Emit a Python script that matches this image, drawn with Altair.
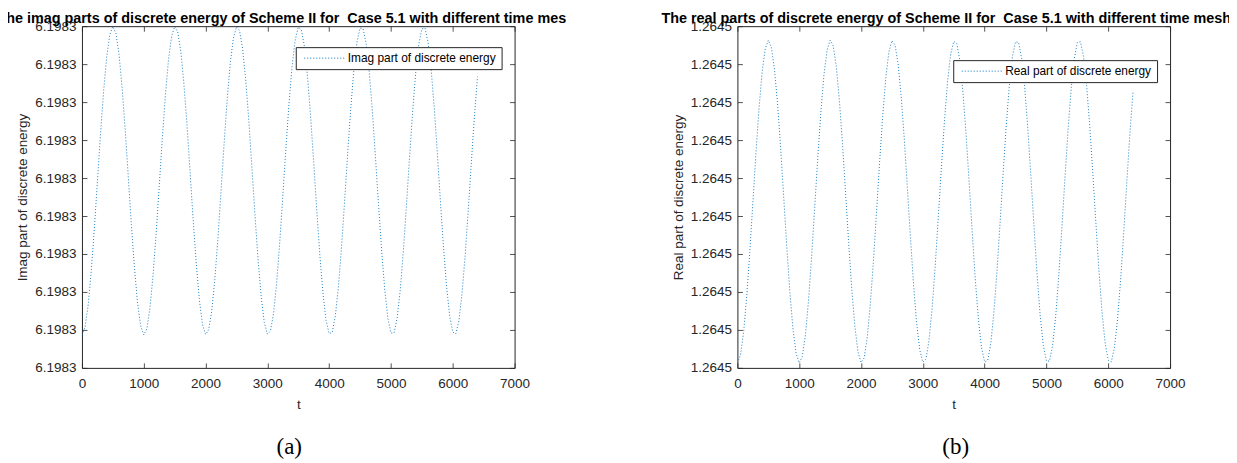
import altair as alt
import pandas as pd

# ---------------- data ----------------
t = list(range(0, 6401, 50))

imag_energy = [
    6.19830087, 6.19830107, 6.19830164, 6.19830253, 6.19830365, 6.19830490, 6.19830615, 6.19830728, 6.19830818, 6.19830877,
    6.19830899, 6.19830881, 6.19830826, 6.19830738, 6.19830627, 6.19830503, 6.19830377, 6.19830263, 6.19830171, 6.19830111,
    6.19830087, 6.19830103, 6.19830157, 6.19830243, 6.19830353, 6.19830477, 6.19830603, 6.19830718, 6.19830811, 6.19830873,
    6.19830899, 6.19830885, 6.19830833, 6.19830748, 6.19830639, 6.19830515, 6.19830389, 6.19830274, 6.19830179, 6.19830115,
    6.19830088, 6.19830100, 6.19830150, 6.19830233, 6.19830341, 6.19830464, 6.19830590, 6.19830707, 6.19830803, 6.19830868,
    6.19830898, 6.19830888, 6.19830840, 6.19830758, 6.19830651, 6.19830528, 6.19830402, 6.19830285, 6.19830188, 6.19830120,
    6.19830089, 6.19830097, 6.19830143, 6.19830223, 6.19830330, 6.19830452, 6.19830578, 6.19830696, 6.19830794, 6.19830863,
    6.19830897, 6.19830891, 6.19830846, 6.19830767, 6.19830662, 6.19830540, 6.19830414, 6.19830296, 6.19830196, 6.19830125,
    6.19830090, 6.19830094, 6.19830137, 6.19830214, 6.19830318, 6.19830439, 6.19830566, 6.19830685, 6.19830786, 6.19830858,
    6.19830895, 6.19830893, 6.19830852, 6.19830777, 6.19830674, 6.19830553, 6.19830427, 6.19830307, 6.19830205, 6.19830131,
    6.19830092, 6.19830092, 6.19830131, 6.19830205, 6.19830307, 6.19830427, 6.19830553, 6.19830674, 6.19830777, 6.19830852,
    6.19830893, 6.19830895, 6.19830858, 6.19830786, 6.19830685, 6.19830566, 6.19830439, 6.19830318, 6.19830214, 6.19830137,
    6.19830094, 6.19830090, 6.19830125, 6.19830196, 6.19830296, 6.19830414, 6.19830540, 6.19830662, 6.19830767,
]

real_energy = [
    1.26450013, 1.26450034, 1.26450093, 1.26450187, 1.26450304, 1.26450435, 1.26450566, 1.26450684, 1.26450779, 1.26450840,
    1.26450863, 1.26450844, 1.26450786, 1.26450695, 1.26450578, 1.26450448, 1.26450317, 1.26450197, 1.26450101, 1.26450038,
    1.26450013, 1.26450030, 1.26450086, 1.26450176, 1.26450292, 1.26450421, 1.26450553, 1.26450673, 1.26450771, 1.26450836,
    1.26450863, 1.26450848, 1.26450794, 1.26450705, 1.26450591, 1.26450461, 1.26450330, 1.26450208, 1.26450110, 1.26450043,
    1.26450014, 1.26450026, 1.26450079, 1.26450166, 1.26450279, 1.26450408, 1.26450540, 1.26450662, 1.26450762, 1.26450831,
    1.26450862, 1.26450851, 1.26450801, 1.26450715, 1.26450603, 1.26450474, 1.26450343, 1.26450220, 1.26450118, 1.26450048,
    1.26450015, 1.26450023, 1.26450072, 1.26450156, 1.26450267, 1.26450395, 1.26450527, 1.26450650, 1.26450753, 1.26450826,
    1.26450860, 1.26450854, 1.26450808, 1.26450725, 1.26450615, 1.26450488, 1.26450355, 1.26450231, 1.26450127, 1.26450053,
    1.26450016, 1.26450020, 1.26450065, 1.26450146, 1.26450255, 1.26450382, 1.26450514, 1.26450639, 1.26450744, 1.26450820,
    1.26450859, 1.26450857, 1.26450814, 1.26450735, 1.26450627, 1.26450501, 1.26450369, 1.26450243, 1.26450136, 1.26450059,
    1.26450018, 1.26450018, 1.26450059, 1.26450136, 1.26450243, 1.26450369, 1.26450501, 1.26450627, 1.26450735, 1.26450814,
    1.26450857, 1.26450859, 1.26450820, 1.26450744, 1.26450639, 1.26450514, 1.26450382, 1.26450255, 1.26450146, 1.26450065,
    1.26450020, 1.26450016, 1.26450053, 1.26450127, 1.26450231, 1.26450355, 1.26450488, 1.26450615, 1.26450725,
]

x_ticks = [0, 1000, 2000, 3000, 4000, 5000, 6000, 7000]
imag_ticks = [6.198300, 6.198301, 6.198302, 6.198303, 6.198304,
              6.198305, 6.198306, 6.198307, 6.198308, 6.198309]
real_ticks = [1.264500, 1.264501, 1.264502, 1.264503, 1.264504,
              1.264505, 1.264506, 1.264507, 1.264508, 1.264509]

imag_title = "The imag parts of discrete energy of Scheme II for\u00a0 Case 5.1 with different time mes"
real_title = "The real parts of discrete energy of Scheme II for\u00a0 Case 5.1 with different time mesh"
imag_series = "Imag part of discrete energy"
real_series = "Real part of discrete energy"

# ---------------- styling ----------------
FONT = "Liberation Sans"
AX = "#262626"
BLUE = "#0072BD"
W, H = 433, 342
FS = 13.5


def panel(values, series, ylabel, ticks, title_text, title_dx, caption, caption_x, leg_x, leg_y):
    df = pd.DataFrame({"t": t, "v": values, "series": series})
    xs = alt.Scale(domain=[x_ticks[0], x_ticks[-1]], nice=False, zero=False)
    ys = alt.Scale(domain=[ticks[0], ticks[-1]], nice=False, zero=False)

    main = alt.Chart(df).mark_line(strokeWidth=0.9, strokeDash=[1, 2], clip=True).encode(
        x=alt.X("t:Q", scale=xs, axis=alt.Axis(
            orient="bottom", values=x_ticks, format="d", offset=-5, tickSize=5,
            tickColor=AX, tickWidth=0.8, domain=False, grid=False,
            labelFont=FONT, labelFontSize=FS, labelColor=AX, labelPadding=9,
            labelFlush=False, labelOverlap=False,
            title="t", titleFont=FONT, titleFontSize=FS, titleFontWeight="normal",
            titleColor=AX, titlePadding=7)),
        y=alt.Y("v:Q", scale=ys, axis=alt.Axis(
            orient="left", values=ticks, format=".4f", offset=-5, tickSize=5,
            tickColor=AX, tickWidth=0.8, domain=False, grid=False,
            labelFont=FONT, labelFontSize=FS, labelColor=AX, labelPadding=6,
            labelFlush=False, labelOverlap=False,
            title=ylabel, titleFont=FONT, titleFontSize=FS, titleFontWeight="normal",
            titleColor=AX, titlePadding=5)),
        color=alt.Color("series:N", scale=alt.Scale(range=[BLUE]), legend=alt.Legend(
            orient="none", legendX=leg_x, legendY=leg_y, title=None,
            symbolType="stroke", symbolSize=1600, symbolStrokeWidth=1,
            symbolDash=[1, 2], symbolOffset=3, labelOffset=3,
            labelFont=FONT, labelFontSize=11.9, labelColor="black", labelLimit=400,
            padding=5, strokeColor=AX, fillColor="white", clipHeight=12,
            cornerRadius=0)),
    )

    frame_ticks = alt.Chart(df).mark_line(opacity=0).encode(
        x=alt.X("t:Q", scale=xs, axis=alt.Axis(
            orient="top", values=x_ticks, offset=-5, tickSize=5, tickColor=AX,
            tickWidth=0.8, labels=False, domain=False, grid=False, title=None)),
        y=alt.Y("v:Q", scale=ys, axis=alt.Axis(
            orient="right", values=ticks, offset=-5, tickSize=5, tickColor=AX,
            tickWidth=0.8, labels=False, domain=False, grid=False, title=None)),
    )

    cap = alt.Chart(df).mark_line(opacity=0).encode(
        x=alt.X("t:Q", scale=xs, axis=alt.Axis(
            orient="bottom", labels=False, ticks=False, domain=False, grid=False,
            title=caption, titleFont="Liberation Serif", titleFontSize=23,
            titleFontWeight="normal", titleColor="black", titleX=caption_x,
            titleY=86, titleAlign="center", titleBaseline="alphabetic")),
        y=alt.Y("v:Q", scale=ys, axis=None),
    )

    return alt.layer(main, frame_ticks, cap).resolve_axis(
        x="independent", y="independent"
    ).properties(
        width=W, height=H,
        title=alt.Title(text=title_text, font=FONT, fontSize=14.4, fontWeight="bold",
                        color="black", anchor="middle", frame="group",
                        dx=title_dx, offset=-7),
    )


left = panel(imag_energy, imag_series, "Imag part of discrete energy", imag_ticks,
             imag_title, -16.5, "(a)", 207, 214, 21)
right = panel(real_energy, real_series, "Real part of discrete energy", real_ticks,
              real_title, -7.5, "(b)", 218, 216, 34)

chart = alt.hconcat(left, right, spacing=223, bounds="flush").resolve_scale(
    color="independent"
).properties(
    padding={"left": -12, "top": 2, "right": -3, "bottom": 0},
    background="white",
).configure_view(stroke=AX, strokeWidth=1)

chart.save("out.html", embed_options={"renderer": "svg", "actions": False})
